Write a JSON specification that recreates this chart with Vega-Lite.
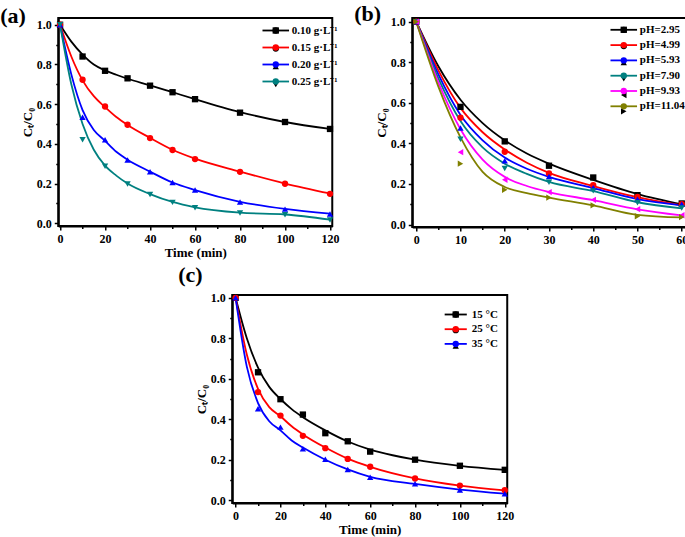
{
  "$schema": "https://vega.github.io/schema/vega-lite/v6.json",
  "padding": {"left": -1, "top": 1, "right": 0, "bottom": 0},
  "background": "white",
  "config": {
    "font": "Liberation Serif",
    "view": {"stroke": "black", "strokeWidth": 2},
    "axis": {
      "grid": false,
      "labelFont": "Liberation Serif", "labelFontWeight": "bold", "labelFontSize": 12, "labelColor": "black",
      "titleFont": "Liberation Serif", "titleFontWeight": "bold", "titleFontSize": 13, "titleColor": "black",
      "domainColor": "black", "domainWidth": 2, "tickColor": "black", "tickWidth": 1.5,
      "labelOverlap": false, "labelPadding": 3, "titlePadding": 2
    },
    "legend": {
      "title": null, "labelFont": "Liberation Serif", "labelFontWeight": "bold", "labelFontSize": 11, "labelColor": "black",
      "padding": 0, "symbolOpacity": 1
    },
    "title": {"font": "Liberation Serif", "fontWeight": "bold", "fontSize": 22, "color": "black"}
  },
  "datasets": {
    "a": [
      {"t":0,"c":1.0,"s":"0.10 g·L⁻¹","k":"p"},{"t":10,"c":0.84,"s":"0.10 g·L⁻¹","k":"p"},{"t":20,"c":0.768,"s":"0.10 g·L⁻¹","k":"p"},{"t":30,"c":0.73,"s":"0.10 g·L⁻¹","k":"p"},{"t":40,"c":0.693,"s":"0.10 g·L⁻¹","k":"p"},{"t":50,"c":0.66,"s":"0.10 g·L⁻¹","k":"p"},{"t":60,"c":0.625,"s":"0.10 g·L⁻¹","k":"p"},{"t":80,"c":0.557,"s":"0.10 g·L⁻¹","k":"p"},{"t":100,"c":0.51,"s":"0.10 g·L⁻¹","k":"p"},{"t":120,"c":0.475,"s":"0.10 g·L⁻¹","k":"p"},
      {"t":0,"c":1.0,"s":"0.15 g·L⁻¹","k":"p"},{"t":10,"c":0.723,"s":"0.15 g·L⁻¹","k":"p"},{"t":20,"c":0.588,"s":"0.15 g·L⁻¹","k":"p"},{"t":30,"c":0.496,"s":"0.15 g·L⁻¹","k":"p"},{"t":40,"c":0.429,"s":"0.15 g·L⁻¹","k":"p"},{"t":50,"c":0.369,"s":"0.15 g·L⁻¹","k":"p"},{"t":60,"c":0.323,"s":"0.15 g·L⁻¹","k":"p"},{"t":80,"c":0.259,"s":"0.15 g·L⁻¹","k":"p"},{"t":100,"c":0.199,"s":"0.15 g·L⁻¹","k":"p"},{"t":120,"c":0.148,"s":"0.15 g·L⁻¹","k":"p"},
      {"t":0,"c":1.0,"s":"0.20 g·L⁻¹","k":"p"},{"t":10,"c":0.534,"s":"0.20 g·L⁻¹","k":"p"},{"t":20,"c":0.42,"s":"0.20 g·L⁻¹","k":"p"},{"t":30,"c":0.319,"s":"0.20 g·L⁻¹","k":"p"},{"t":40,"c":0.259,"s":"0.20 g·L⁻¹","k":"p"},{"t":50,"c":0.205,"s":"0.20 g·L⁻¹","k":"p"},{"t":60,"c":0.167,"s":"0.20 g·L⁻¹","k":"p"},{"t":80,"c":0.107,"s":"0.20 g·L⁻¹","k":"p"},{"t":100,"c":0.071,"s":"0.20 g·L⁻¹","k":"p"},{"t":120,"c":0.047,"s":"0.20 g·L⁻¹","k":"p"},
      {"t":0,"c":1.0,"s":"0.25 g·L⁻¹","k":"p"},{"t":10,"c":0.42,"s":"0.25 g·L⁻¹","k":"p"},{"t":20,"c":0.287,"s":"0.25 g·L⁻¹","k":"p"},{"t":30,"c":0.198,"s":"0.25 g·L⁻¹","k":"p"},{"t":40,"c":0.145,"s":"0.25 g·L⁻¹","k":"p"},{"t":50,"c":0.105,"s":"0.25 g·L⁻¹","k":"p"},{"t":60,"c":0.078,"s":"0.25 g·L⁻¹","k":"p"},{"t":80,"c":0.051,"s":"0.25 g·L⁻¹","k":"p"},{"t":100,"c":0.043,"s":"0.25 g·L⁻¹","k":"p"},{"t":120,"c":0.016,"s":"0.25 g·L⁻¹","k":"p"},
      {"t":0,"c":1.0,"s":"0.10 g·L⁻¹","k":"f"},{"t":5,"c":0.915,"s":"0.10 g·L⁻¹","k":"f"},{"t":10,"c":0.85,"s":"0.10 g·L⁻¹","k":"f"},{"t":15,"c":0.80,"s":"0.10 g·L⁻¹","k":"f"},{"t":20,"c":0.77,"s":"0.10 g·L⁻¹","k":"f"},{"t":25,"c":0.748,"s":"0.10 g·L⁻¹","k":"f"},{"t":30,"c":0.728,"s":"0.10 g·L⁻¹","k":"f"},{"t":40,"c":0.695,"s":"0.10 g·L⁻¹","k":"f"},{"t":50,"c":0.66,"s":"0.10 g·L⁻¹","k":"f"},{"t":60,"c":0.625,"s":"0.10 g·L⁻¹","k":"f"},{"t":80,"c":0.56,"s":"0.10 g·L⁻¹","k":"f"},{"t":100,"c":0.51,"s":"0.10 g·L⁻¹","k":"f"},{"t":120,"c":0.475,"s":"0.10 g·L⁻¹","k":"f"},
      {"t":0,"c":1.0,"s":"0.15 g·L⁻¹","k":"f"},{"t":5,"c":0.84,"s":"0.15 g·L⁻¹","k":"f"},{"t":10,"c":0.72,"s":"0.15 g·L⁻¹","k":"f"},{"t":15,"c":0.64,"s":"0.15 g·L⁻¹","k":"f"},{"t":20,"c":0.585,"s":"0.15 g·L⁻¹","k":"f"},{"t":25,"c":0.535,"s":"0.15 g·L⁻¹","k":"f"},{"t":30,"c":0.495,"s":"0.15 g·L⁻¹","k":"f"},{"t":40,"c":0.43,"s":"0.15 g·L⁻¹","k":"f"},{"t":50,"c":0.37,"s":"0.15 g·L⁻¹","k":"f"},{"t":60,"c":0.325,"s":"0.15 g·L⁻¹","k":"f"},{"t":80,"c":0.26,"s":"0.15 g·L⁻¹","k":"f"},{"t":100,"c":0.20,"s":"0.15 g·L⁻¹","k":"f"},{"t":120,"c":0.15,"s":"0.15 g·L⁻¹","k":"f"},
      {"t":0,"c":1.0,"s":"0.20 g·L⁻¹","k":"f"},{"t":5,"c":0.75,"s":"0.20 g·L⁻¹","k":"f"},{"t":10,"c":0.57,"s":"0.20 g·L⁻¹","k":"f"},{"t":15,"c":0.47,"s":"0.20 g·L⁻¹","k":"f"},{"t":20,"c":0.415,"s":"0.20 g·L⁻¹","k":"f"},{"t":25,"c":0.36,"s":"0.20 g·L⁻¹","k":"f"},{"t":30,"c":0.32,"s":"0.20 g·L⁻¹","k":"f"},{"t":40,"c":0.26,"s":"0.20 g·L⁻¹","k":"f"},{"t":50,"c":0.205,"s":"0.20 g·L⁻¹","k":"f"},{"t":60,"c":0.167,"s":"0.20 g·L⁻¹","k":"f"},{"t":80,"c":0.108,"s":"0.20 g·L⁻¹","k":"f"},{"t":100,"c":0.072,"s":"0.20 g·L⁻¹","k":"f"},{"t":120,"c":0.048,"s":"0.20 g·L⁻¹","k":"f"},
      {"t":0,"c":1.0,"s":"0.25 g·L⁻¹","k":"f"},{"t":5,"c":0.70,"s":"0.25 g·L⁻¹","k":"f"},{"t":10,"c":0.50,"s":"0.25 g·L⁻¹","k":"f"},{"t":15,"c":0.37,"s":"0.25 g·L⁻¹","k":"f"},{"t":20,"c":0.29,"s":"0.25 g·L⁻¹","k":"f"},{"t":25,"c":0.24,"s":"0.25 g·L⁻¹","k":"f"},{"t":30,"c":0.20,"s":"0.25 g·L⁻¹","k":"f"},{"t":40,"c":0.147,"s":"0.25 g·L⁻¹","k":"f"},{"t":50,"c":0.107,"s":"0.25 g·L⁻¹","k":"f"},{"t":60,"c":0.08,"s":"0.25 g·L⁻¹","k":"f"},{"t":80,"c":0.053,"s":"0.25 g·L⁻¹","k":"f"},{"t":100,"c":0.044,"s":"0.25 g·L⁻¹","k":"f"},{"t":120,"c":0.018,"s":"0.25 g·L⁻¹","k":"f"}
    ],
    "b": [
      {"t":0,"c":1.0,"s":"pH=2.95","k":"p"},{"t":10,"c":0.58,"s":"pH=2.95","k":"p"},{"t":20,"c":0.41,"s":"pH=2.95","k":"p"},{"t":30,"c":0.29,"s":"pH=2.95","k":"p"},{"t":40,"c":0.232,"s":"pH=2.95","k":"p"},{"t":50,"c":0.145,"s":"pH=2.95","k":"p"},{"t":60,"c":0.104,"s":"pH=2.95","k":"p"},
      {"t":0,"c":1.0,"s":"pH=4.99","k":"p"},{"t":10,"c":0.527,"s":"pH=4.99","k":"p"},{"t":20,"c":0.359,"s":"pH=4.99","k":"p"},{"t":30,"c":0.252,"s":"pH=4.99","k":"p"},{"t":40,"c":0.194,"s":"pH=4.99","k":"p"},{"t":50,"c":0.136,"s":"pH=4.99","k":"p"},{"t":60,"c":0.10,"s":"pH=4.99","k":"p"},
      {"t":0,"c":1.0,"s":"pH=5.93","k":"p"},{"t":10,"c":0.476,"s":"pH=5.93","k":"p"},{"t":20,"c":0.314,"s":"pH=5.93","k":"p"},{"t":30,"c":0.237,"s":"pH=5.93","k":"p"},{"t":40,"c":0.182,"s":"pH=5.93","k":"p"},{"t":50,"c":0.125,"s":"pH=5.93","k":"p"},{"t":60,"c":0.10,"s":"pH=5.93","k":"p"},
      {"t":0,"c":1.0,"s":"pH=7.90","k":"p"},{"t":10,"c":0.42,"s":"pH=7.90","k":"p"},{"t":20,"c":0.276,"s":"pH=7.90","k":"p"},{"t":30,"c":0.209,"s":"pH=7.90","k":"p"},{"t":40,"c":0.166,"s":"pH=7.90","k":"p"},{"t":50,"c":0.107,"s":"pH=7.90","k":"p"},{"t":60,"c":0.082,"s":"pH=7.90","k":"p"},
      {"t":0,"c":1.0,"s":"pH=9.93","k":"p"},{"t":10,"c":0.357,"s":"pH=9.93","k":"p"},{"t":20,"c":0.221,"s":"pH=9.93","k":"p"},{"t":30,"c":0.16,"s":"pH=9.93","k":"p"},{"t":40,"c":0.122,"s":"pH=9.93","k":"p"},{"t":50,"c":0.076,"s":"pH=9.93","k":"p"},{"t":60,"c":0.046,"s":"pH=9.93","k":"p"},
      {"t":0,"c":1.0,"s":"pH=11.04","k":"p"},{"t":10,"c":0.30,"s":"pH=11.04","k":"p"},{"t":20,"c":0.171,"s":"pH=11.04","k":"p"},{"t":30,"c":0.133,"s":"pH=11.04","k":"p"},{"t":40,"c":0.095,"s":"pH=11.04","k":"p"},{"t":50,"c":0.041,"s":"pH=11.04","k":"p"},{"t":60,"c":0.037,"s":"pH=11.04","k":"p"},
      {"t":0,"c":1.0,"s":"pH=2.95","k":"f"},{"t":5,"c":0.78,"s":"pH=2.95","k":"f"},{"t":10,"c":0.615,"s":"pH=2.95","k":"f"},{"t":15,"c":0.50,"s":"pH=2.95","k":"f"},{"t":20,"c":0.415,"s":"pH=2.95","k":"f"},{"t":25,"c":0.35,"s":"pH=2.95","k":"f"},{"t":30,"c":0.30,"s":"pH=2.95","k":"f"},{"t":40,"c":0.22,"s":"pH=2.95","k":"f"},{"t":50,"c":0.15,"s":"pH=2.95","k":"f"},{"t":60,"c":0.10,"s":"pH=2.95","k":"f"},
      {"t":0,"c":1.0,"s":"pH=4.99","k":"f"},{"t":5,"c":0.76,"s":"pH=4.99","k":"f"},{"t":10,"c":0.575,"s":"pH=4.99","k":"f"},{"t":15,"c":0.455,"s":"pH=4.99","k":"f"},{"t":20,"c":0.37,"s":"pH=4.99","k":"f"},{"t":25,"c":0.305,"s":"pH=4.99","k":"f"},{"t":30,"c":0.255,"s":"pH=4.99","k":"f"},{"t":40,"c":0.19,"s":"pH=4.99","k":"f"},{"t":50,"c":0.135,"s":"pH=4.99","k":"f"},{"t":60,"c":0.095,"s":"pH=4.99","k":"f"},
      {"t":0,"c":1.0,"s":"pH=5.93","k":"f"},{"t":5,"c":0.74,"s":"pH=5.93","k":"f"},{"t":10,"c":0.54,"s":"pH=5.93","k":"f"},{"t":15,"c":0.415,"s":"pH=5.93","k":"f"},{"t":20,"c":0.33,"s":"pH=5.93","k":"f"},{"t":25,"c":0.275,"s":"pH=5.93","k":"f"},{"t":30,"c":0.235,"s":"pH=5.93","k":"f"},{"t":40,"c":0.18,"s":"pH=5.93","k":"f"},{"t":50,"c":0.125,"s":"pH=5.93","k":"f"},{"t":60,"c":0.095,"s":"pH=5.93","k":"f"},
      {"t":0,"c":1.0,"s":"pH=7.90","k":"f"},{"t":5,"c":0.72,"s":"pH=7.90","k":"f"},{"t":10,"c":0.51,"s":"pH=7.90","k":"f"},{"t":15,"c":0.38,"s":"pH=7.90","k":"f"},{"t":20,"c":0.30,"s":"pH=7.90","k":"f"},{"t":25,"c":0.25,"s":"pH=7.90","k":"f"},{"t":30,"c":0.21,"s":"pH=7.90","k":"f"},{"t":40,"c":0.165,"s":"pH=7.90","k":"f"},{"t":50,"c":0.11,"s":"pH=7.90","k":"f"},{"t":60,"c":0.08,"s":"pH=7.90","k":"f"},
      {"t":0,"c":1.0,"s":"pH=9.93","k":"f"},{"t":5,"c":0.70,"s":"pH=9.93","k":"f"},{"t":10,"c":0.47,"s":"pH=9.93","k":"f"},{"t":15,"c":0.32,"s":"pH=9.93","k":"f"},{"t":20,"c":0.235,"s":"pH=9.93","k":"f"},{"t":25,"c":0.19,"s":"pH=9.93","k":"f"},{"t":30,"c":0.16,"s":"pH=9.93","k":"f"},{"t":40,"c":0.12,"s":"pH=9.93","k":"f"},{"t":50,"c":0.075,"s":"pH=9.93","k":"f"},{"t":60,"c":0.045,"s":"pH=9.93","k":"f"},
      {"t":0,"c":1.0,"s":"pH=11.04","k":"f"},{"t":5,"c":0.68,"s":"pH=11.04","k":"f"},{"t":10,"c":0.43,"s":"pH=11.04","k":"f"},{"t":15,"c":0.26,"s":"pH=11.04","k":"f"},{"t":20,"c":0.185,"s":"pH=11.04","k":"f"},{"t":25,"c":0.155,"s":"pH=11.04","k":"f"},{"t":30,"c":0.133,"s":"pH=11.04","k":"f"},{"t":40,"c":0.095,"s":"pH=11.04","k":"f"},{"t":50,"c":0.048,"s":"pH=11.04","k":"f"},{"t":60,"c":0.035,"s":"pH=11.04","k":"f"}
    ],
    "c": [
      {"t":0,"c":1.0,"s":"15 °C","k":"p"},{"t":10,"c":0.632,"s":"15 °C","k":"p"},{"t":20,"c":0.499,"s":"15 °C","k":"p"},{"t":30,"c":0.423,"s":"15 °C","k":"p"},{"t":40,"c":0.331,"s":"15 °C","k":"p"},{"t":50,"c":0.291,"s":"15 °C","k":"p"},{"t":60,"c":0.24,"s":"15 °C","k":"p"},{"t":80,"c":0.20,"s":"15 °C","k":"p"},{"t":100,"c":0.17,"s":"15 °C","k":"p"},{"t":120,"c":0.15,"s":"15 °C","k":"p"},
      {"t":0,"c":1.0,"s":"25 °C","k":"p"},{"t":10,"c":0.534,"s":"25 °C","k":"p"},{"t":20,"c":0.418,"s":"25 °C","k":"p"},{"t":30,"c":0.318,"s":"25 °C","k":"p"},{"t":40,"c":0.257,"s":"25 °C","k":"p"},{"t":50,"c":0.204,"s":"25 °C","k":"p"},{"t":60,"c":0.165,"s":"25 °C","k":"p"},{"t":80,"c":0.107,"s":"25 °C","k":"p"},{"t":100,"c":0.072,"s":"25 °C","k":"p"},{"t":120,"c":0.049,"s":"25 °C","k":"p"},
      {"t":0,"c":1.0,"s":"35 °C","k":"p"},{"t":10,"c":0.452,"s":"35 °C","k":"p"},{"t":20,"c":0.361,"s":"35 °C","k":"p"},{"t":30,"c":0.254,"s":"35 °C","k":"p"},{"t":40,"c":0.202,"s":"35 °C","k":"p"},{"t":50,"c":0.152,"s":"35 °C","k":"p"},{"t":60,"c":0.113,"s":"35 °C","k":"p"},{"t":80,"c":0.081,"s":"35 °C","k":"p"},{"t":100,"c":0.05,"s":"35 °C","k":"p"},{"t":120,"c":0.032,"s":"35 °C","k":"p"},
      {"t":0,"c":1.0,"s":"15 °C","k":"f"},{"t":5,"c":0.80,"s":"15 °C","k":"f"},{"t":10,"c":0.655,"s":"15 °C","k":"f"},{"t":15,"c":0.56,"s":"15 °C","k":"f"},{"t":20,"c":0.50,"s":"15 °C","k":"f"},{"t":25,"c":0.45,"s":"15 °C","k":"f"},{"t":30,"c":0.41,"s":"15 °C","k":"f"},{"t":40,"c":0.345,"s":"15 °C","k":"f"},{"t":50,"c":0.29,"s":"15 °C","k":"f"},{"t":60,"c":0.25,"s":"15 °C","k":"f"},{"t":70,"c":0.222,"s":"15 °C","k":"f"},{"t":80,"c":0.20,"s":"15 °C","k":"f"},{"t":100,"c":0.17,"s":"15 °C","k":"f"},{"t":120,"c":0.15,"s":"15 °C","k":"f"},
      {"t":0,"c":1.0,"s":"25 °C","k":"f"},{"t":5,"c":0.72,"s":"25 °C","k":"f"},{"t":10,"c":0.55,"s":"25 °C","k":"f"},{"t":15,"c":0.46,"s":"25 °C","k":"f"},{"t":20,"c":0.415,"s":"25 °C","k":"f"},{"t":25,"c":0.365,"s":"25 °C","k":"f"},{"t":30,"c":0.325,"s":"25 °C","k":"f"},{"t":40,"c":0.26,"s":"25 °C","k":"f"},{"t":50,"c":0.205,"s":"25 °C","k":"f"},{"t":60,"c":0.165,"s":"25 °C","k":"f"},{"t":80,"c":0.108,"s":"25 °C","k":"f"},{"t":100,"c":0.072,"s":"25 °C","k":"f"},{"t":120,"c":0.048,"s":"25 °C","k":"f"},
      {"t":0,"c":1.0,"s":"35 °C","k":"f"},{"t":5,"c":0.66,"s":"35 °C","k":"f"},{"t":10,"c":0.48,"s":"35 °C","k":"f"},{"t":15,"c":0.39,"s":"35 °C","k":"f"},{"t":20,"c":0.345,"s":"35 °C","k":"f"},{"t":25,"c":0.295,"s":"35 °C","k":"f"},{"t":30,"c":0.26,"s":"35 °C","k":"f"},{"t":40,"c":0.20,"s":"35 °C","k":"f"},{"t":50,"c":0.152,"s":"35 °C","k":"f"},{"t":60,"c":0.115,"s":"35 °C","k":"f"},{"t":80,"c":0.08,"s":"35 °C","k":"f"},{"t":100,"c":0.052,"s":"35 °C","k":"f"},{"t":120,"c":0.032,"s":"35 °C","k":"f"}
    ]
  },
  "center": true,
  "spacing": 2,
  "resolve": {"scale": {"x": "independent", "y": "independent", "color": "independent", "shape": "independent"}, "legend": {"color": "independent", "shape": "independent"}},
  "vconcat": [
    {
      "spacing": 13,
      "resolve": {"scale": {"x": "independent", "y": "independent", "color": "independent", "shape": "independent"}, "legend": {"color": "independent", "shape": "independent"}},
      "hconcat": [
        {
          "width": 274, "height": 208,
          "data": {"name": "a"},
          "title": {"text": "(a)", "anchor": "start", "frame": "group", "orient": "top", "offset": -27, "dx": -58, "baseline": "alphabetic"},
          "encoding": {
            "x": {"field": "t", "type": "quantitative", "title": "Time (min)",
              "scale": {"domain": [-0.8, 121], "nice": false, "zero": false},
              "axis": {"values": [0,10,20,30,40,50,60,70,80,90,100,110,120], "labelExpr": "datum.value % 20 == 0 ? datum.label : ''",
                "tickSize": {"condition": {"test": "datum.value % 20 != 0", "value": 2.5}, "value": 4}}},
            "y": {"field": "c", "type": "quantitative", "title": "Cₜ/C₀",
              "scale": {"domain": [-0.014, 1.034], "nice": false, "zero": false},
              "axis": {"values": [0,0.1,0.2,0.3,0.4,0.5,0.6,0.7,0.8,0.9,1.0], "labelExpr": "round(datum.value*10) % 2 == 0 ? format(datum.value, '.1f') : ''",
                "tickSize": {"condition": {"test": "round(datum.value*10) % 2 == 1", "value": 2.5}, "value": 4}}}
          },
          "resolve": {"scale": {"color": "independent"}, "legend": {"color": "independent"}},
          "layer": [
            {"transform": [{"filter": "datum.k == 'f'"}], "mark": {"type": "line", "interpolate": "monotone", "strokeWidth": 1.8},
              "encoding": {"color": {"field": "s", "type": "nominal",
                "legend": {"orient": "none", "legendX": 212, "legendY": 7, "rowPadding": 5, "symbolType": "M-4.2,0H4.2", "symbolSize": 40, "symbolStrokeWidth": 1.8, "labelOffset": 10.5},
                "scale": {"domain": ["0.10 g·L⁻¹","0.15 g·L⁻¹","0.20 g·L⁻¹","0.25 g·L⁻¹"], "range": ["#000000","#FF0000","#0000FF","#008080"]}}}},
            {"transform": [{"filter": "datum.k == 'p'"}], "mark": {"type": "point", "filled": true, "size": 40, "opacity": 1},
              "encoding": {
                "color": {"field": "s", "type": "nominal",
                  "legend": {"orient": "none", "legendX": 212, "legendY": 7, "rowPadding": 5, "symbolSize": 40, "labelOffset": 10.5, "labelOpacity": 0},
                  "scale": {"domain": ["0.10 g·L⁻¹","0.15 g·L⁻¹","0.20 g·L⁻¹","0.25 g·L⁻¹"], "range": ["#000000","#FF0000","#0000FF","#008080"]}},
                "shape": {"field": "s", "type": "nominal",
                  "legend": {"orient": "none", "legendX": 212, "legendY": 7, "rowPadding": 5, "symbolSize": 40, "labelOffset": 10.5, "labelOpacity": 0},
                  "scale": {"domain": ["0.10 g·L⁻¹","0.15 g·L⁻¹","0.20 g·L⁻¹","0.25 g·L⁻¹"], "range": ["square","circle","triangle-up","triangle-down"]}}}}
          ]
        },
        {
          "width": 275, "height": 209,
          "data": {"name": "b"},
          "title": {"text": "(b)", "anchor": "start", "frame": "group", "orient": "top", "offset": -27, "dx": -58, "baseline": "alphabetic"},
          "encoding": {
            "x": {"field": "t", "type": "quantitative", "title": null,
              "scale": {"domain": [-0.9, 61.25], "nice": false, "zero": false},
              "axis": {"values": [0,5,10,15,20,25,30,35,40,45,50,55,60], "labelExpr": "datum.value % 10 == 0 ? datum.label : ''",
                "tickSize": {"condition": {"test": "datum.value % 10 != 0", "value": 2.5}, "value": 4}}},
            "y": {"field": "c", "type": "quantitative", "title": "Cₜ/C₀",
              "scale": {"domain": [-0.012, 1.018], "nice": false, "zero": false},
              "axis": {"values": [0,0.1,0.2,0.3,0.4,0.5,0.6,0.7,0.8,0.9,1.0], "labelExpr": "round(datum.value*10) % 2 == 0 ? format(datum.value, '.1f') : ''",
                "tickSize": {"condition": {"test": "round(datum.value*10) % 2 == 1", "value": 2.5}, "value": 4}}}
          },
          "resolve": {"scale": {"color": "independent"}, "legend": {"color": "independent"}},
          "layer": [
            {"transform": [{"filter": "datum.k == 'f'"}], "mark": {"type": "line", "interpolate": "monotone", "strokeWidth": 1.8},
              "encoding": {"color": {"field": "s", "type": "nominal",
                "legend": {"orient": "none", "legendX": 206, "legendY": 6.3, "rowPadding": 3.3, "symbolType": "M-4.2,0H4.2", "symbolSize": 40, "symbolStrokeWidth": 1.8, "labelOffset": 10.5},
                "scale": {"domain": ["pH=2.95","pH=4.99","pH=5.93","pH=7.90","pH=9.93","pH=11.04"], "range": ["#000000","#FF0000","#0000FF","#008080","#FF00FF","#808000"]}}}},
            {"transform": [{"filter": "datum.k == 'p'"}], "mark": {"type": "point", "filled": true, "size": 40, "opacity": 1},
              "encoding": {
                "color": {"field": "s", "type": "nominal",
                  "legend": {"orient": "none", "legendX": 206, "legendY": 6.3, "rowPadding": 3.3, "symbolSize": 40, "labelOffset": 10.5, "labelOpacity": 0},
                  "scale": {"domain": ["pH=2.95","pH=4.99","pH=5.93","pH=7.90","pH=9.93","pH=11.04"], "range": ["#000000","#FF0000","#0000FF","#008080","#FF00FF","#808000"]}},
                "shape": {"field": "s", "type": "nominal",
                  "legend": {"orient": "none", "legendX": 206, "legendY": 6.3, "rowPadding": 3.3, "symbolSize": 40, "labelOffset": 10.5, "labelOpacity": 0},
                  "scale": {"domain": ["pH=2.95","pH=4.99","pH=5.93","pH=7.90","pH=9.93","pH=11.04"], "range": ["square","circle","triangle-up","triangle-down","triangle-left","triangle-right"]}}}}
          ]
        }
      ]
    },
    {
      "width": 275, "height": 208,
      "data": {"name": "c"},
      "title": {"text": "(c)", "anchor": "start", "frame": "group", "orient": "top", "offset": -12, "dx": -54, "baseline": "alphabetic"},
      "encoding": {
        "x": {"field": "t", "type": "quantitative", "title": "Time (min)",
          "scale": {"domain": [-1.5, 121.1], "nice": false, "zero": false},
          "axis": {"values": [0,10,20,30,40,50,60,70,80,90,100,110,120], "labelExpr": "datum.value % 20 == 0 ? datum.label : ''",
            "tickSize": {"condition": {"test": "datum.value % 20 != 0", "value": 2.5}, "value": 4}}},
        "y": {"field": "c", "type": "quantitative", "title": "Cₜ/C₀",
          "scale": {"domain": [-0.014, 1.014], "nice": false, "zero": false},
          "axis": {"values": [0,0.1,0.2,0.3,0.4,0.5,0.6,0.7,0.8,0.9,1.0], "labelExpr": "round(datum.value*10) % 2 == 0 ? format(datum.value, '.1f') : ''",
            "tickSize": {"condition": {"test": "round(datum.value*10) % 2 == 1", "value": 2.5}, "value": 4}}}
      },
      "resolve": {"scale": {"color": "independent"}, "legend": {"color": "independent"}},
      "layer": [
        {"transform": [{"filter": "datum.k == 'f'"}], "mark": {"type": "line", "interpolate": "monotone", "strokeWidth": 1.8},
          "encoding": {"color": {"field": "s", "type": "nominal",
            "legend": {"orient": "none", "legendX": 218, "legendY": 14, "rowPadding": 2.7, "symbolType": "M-3.5,0H3.5", "symbolSize": 40, "symbolStrokeWidth": 1.8, "labelOffset": 10.5},
            "scale": {"domain": ["15 °C","25 °C","35 °C"], "range": ["#000000","#FF0000","#0000FF"]}}}},
        {"transform": [{"filter": "datum.k == 'p'"}], "mark": {"type": "point", "filled": true, "size": 40, "opacity": 1},
          "encoding": {
            "color": {"field": "s", "type": "nominal",
              "legend": {"orient": "none", "legendX": 218, "legendY": 14, "rowPadding": 2.7, "symbolSize": 40, "labelOffset": 10.5, "labelOpacity": 0},
              "scale": {"domain": ["15 °C","25 °C","35 °C"], "range": ["#000000","#FF0000","#0000FF"]}},
            "shape": {"field": "s", "type": "nominal",
              "legend": {"orient": "none", "legendX": 218, "legendY": 14, "rowPadding": 2.7, "symbolSize": 40, "labelOffset": 10.5, "labelOpacity": 0},
              "scale": {"domain": ["15 °C","25 °C","35 °C"], "range": ["square","circle","triangle-up"]}}}}
      ]
    }
  ]
}
